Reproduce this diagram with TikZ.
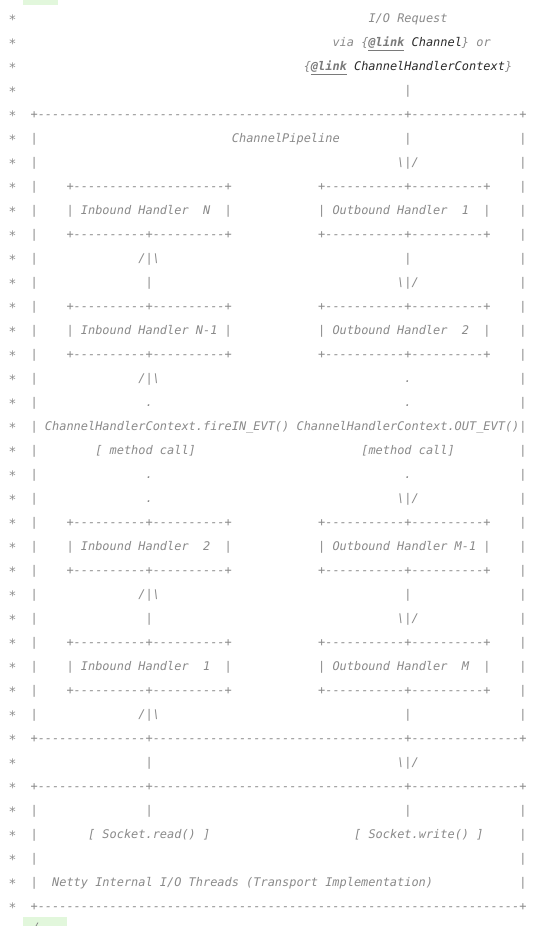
\documentclass[tikz,border=0pt]{standalone}
\usepackage{fontspec}
\newfontfamily\mono{DejaVu Sans Mono}
\definecolor{cgrey}{HTML}{8A8A8A}
\definecolor{cstar}{HTML}{8E8E8E}
\definecolor{clink}{HTML}{7A7A7A}
\definecolor{cname}{HTML}{2A2A2A}
\definecolor{cgreen}{HTML}{E2F7DC}
\newcommand\dsh[1]{\foreach \i in {1,...,#1}{-\kern0pt}}
\newcommand\bsl{\textbackslash}
\newcommand\lk{{\bfseries\color{clink}\underline{@link}}}
\newcommand\nm[1]{{\color{cname}#1}}
\tikzset{
  seg/.style={inner sep=0pt, outer sep=0pt, anchor=base west,
    font=\mono\itshape\fontsize{11.94}{14}\selectfont\frenchspacing, text=cgrey},
  starmark/.style={inner sep=0pt, outer sep=0pt, anchor=center,
    font=\mono\fontsize{13}{14}\selectfont, text=cstar},
  greenmark/.style={fill=cgreen, draw=none},
  clipmark/.style={draw=cgrey, line width=0.8pt}
}
\newcommand\seg[3]{\node[seg] (r#1c#2) at ({9+7.19*#2},{22.5+24*(#1-1)}) {#3};}
\begin{document}
\begin{tikzpicture}[x=1pt,y=-1pt]
\useasboundingbox (0,0) rectangle (559,926);
\fill[white] (0,0) rectangle (559,926);
% editor marks
\fill[greenmark] (23,0) rectangle (58,5);
\fill[greenmark] (23,917) rectangle (67,926);
\coordinate (cm1) at (36,926);
\coordinate (cm2) at (38,922.5);
\draw[clipmark] (cm1) -- (cm2);
% comment asterisks
\foreach \r in {1,...,38} {\node[starmark] (s\r) at (12.5,{20+24*(\r-1)}) {*};}
% header
\seg{1}{50}{I/O Request}
\seg{2}{45}{via \{\lk{} \nm{Channel}\} or}
\seg{3}{41}{\{\lk{} \nm{ChannelHandlerContext}\}}
\seg{4}{55}{|}
\seg{5}{3}{+\dsh{51}+\dsh{15}+}
\seg{6}{3}{|}\seg{6}{31}{ChannelPipeline}\seg{6}{55}{|}\seg{6}{71}{|}
\seg{7}{3}{|}\seg{7}{54}{\bsl|/}\seg{7}{71}{|}
% handlers 1
\seg{8}{3}{|}\seg{8}{8}{+\dsh{21}+}\seg{8}{43}{+\dsh{11}+\dsh{10}+}\seg{8}{71}{|}
\seg{9}{3}{|}\seg{9}{8}{| Inbound Handler~~N~~|}\seg{9}{43}{| Outbound Handler~~1~~|}\seg{9}{71}{|}
\seg{10}{3}{|}\seg{10}{8}{+\dsh{10}+\dsh{10}+}\seg{10}{43}{+\dsh{11}+\dsh{10}+}\seg{10}{71}{|}
\seg{11}{3}{|}\seg{11}{18}{/|\bsl}\seg{11}{55}{|}\seg{11}{71}{|}
\seg{12}{3}{|}\seg{12}{19}{|}\seg{12}{54}{\bsl|/}\seg{12}{71}{|}
% handlers 2
\seg{13}{3}{|}\seg{13}{8}{+\dsh{10}+\dsh{10}+}\seg{13}{43}{+\dsh{11}+\dsh{10}+}\seg{13}{71}{|}
\seg{14}{3}{|}\seg{14}{8}{| Inbound Handler N-1 |}\seg{14}{43}{| Outbound Handler~~2~~|}\seg{14}{71}{|}
\seg{15}{3}{|}\seg{15}{8}{+\dsh{10}+\dsh{10}+}\seg{15}{43}{+\dsh{11}+\dsh{10}+}\seg{15}{71}{|}
\seg{16}{3}{|}\seg{16}{18}{/|\bsl}\seg{16}{55}{.}\seg{16}{71}{|}
\seg{17}{3}{|}\seg{17}{19}{.}\seg{17}{55}{.}\seg{17}{71}{|}
\seg{18}{3}{|}\seg{18}{5}{ChannelHandlerContext.fireIN\_EVT()}\seg{18}{40}{ChannelHandlerContext.OUT\_EVT()}\seg{18}{71}{|}
\seg{19}{3}{|}\seg{19}{12}{[ method call]}\seg{19}{49}{[method call]}\seg{19}{71}{|}
\seg{20}{3}{|}\seg{20}{19}{.}\seg{20}{55}{.}\seg{20}{71}{|}
\seg{21}{3}{|}\seg{21}{19}{.}\seg{21}{54}{\bsl|/}\seg{21}{71}{|}
% handlers 3
\seg{22}{3}{|}\seg{22}{8}{+\dsh{10}+\dsh{10}+}\seg{22}{43}{+\dsh{11}+\dsh{10}+}\seg{22}{71}{|}
\seg{23}{3}{|}\seg{23}{8}{| Inbound Handler~~2~~|}\seg{23}{43}{| Outbound Handler M-1 |}\seg{23}{71}{|}
\seg{24}{3}{|}\seg{24}{8}{+\dsh{10}+\dsh{10}+}\seg{24}{43}{+\dsh{11}+\dsh{10}+}\seg{24}{71}{|}
\seg{25}{3}{|}\seg{25}{18}{/|\bsl}\seg{25}{55}{|}\seg{25}{71}{|}
\seg{26}{3}{|}\seg{26}{19}{|}\seg{26}{54}{\bsl|/}\seg{26}{71}{|}
% handlers 4
\seg{27}{3}{|}\seg{27}{8}{+\dsh{10}+\dsh{10}+}\seg{27}{43}{+\dsh{11}+\dsh{10}+}\seg{27}{71}{|}
\seg{28}{3}{|}\seg{28}{8}{| Inbound Handler~~1~~|}\seg{28}{43}{| Outbound Handler~~M~~|}\seg{28}{71}{|}
\seg{29}{3}{|}\seg{29}{8}{+\dsh{10}+\dsh{10}+}\seg{29}{43}{+\dsh{11}+\dsh{10}+}\seg{29}{71}{|}
\seg{30}{3}{|}\seg{30}{18}{/|\bsl}\seg{30}{55}{|}\seg{30}{71}{|}
% bottom
\seg{31}{3}{+\dsh{15}+\dsh{35}+\dsh{15}+}
\seg{32}{19}{|}\seg{32}{54}{\bsl|/}
\seg{33}{3}{+\dsh{15}+\dsh{35}+\dsh{15}+}
\seg{34}{3}{|}\seg{34}{19}{|}\seg{34}{55}{|}\seg{34}{71}{|}
\seg{35}{3}{|}\seg{35}{11}{[ Socket.read() ]}\seg{35}{48}{[ Socket.write() ]}\seg{35}{71}{|}
\seg{36}{3}{|}\seg{36}{71}{|}
\seg{37}{3}{|}\seg{37}{6}{Netty Internal I/O Threads (Transport Implementation)}\seg{37}{71}{|}
\seg{38}{3}{+\dsh{67}+}
\end{tikzpicture}
\end{document}
